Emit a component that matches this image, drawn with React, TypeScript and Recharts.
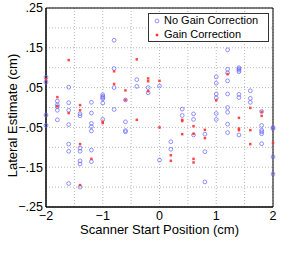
import React from "react";
import { ScatterChart, Scatter, XAxis, YAxis, CartesianGrid, ReferenceArea, Legend } from "recharts";

// scanner start positions (cm)
const positions = [-2, -1.8, -1.6, -1.4, -1.2, -1, -0.8, -0.6, -0.4, -0.2, 0, 0.2, 0.4, 0.6, 0.8, 1, 1.2, 1.4, 1.6, 1.8, 2];

// lateral estimates per position, no gain correction
const noGainValues = [
  [0.076, 0.064, -0.019, -0.045],
  [0.016, 0.007, 0.002, -0.007, -0.031],
  [0.051, 0.012, -0.007, -0.043, -0.092, -0.11, -0.191],
  [-0.016, -0.021, -0.102, -0.11, -0.134, -0.142, -0.2],
  [0.013, -0.014, -0.04, -0.048, -0.059, -0.107, -0.136],
  [0.032, 0.028, 0.025, 0.022, 0.011, -0.03],
  [0.169, 0.098, 0.05, -0.005],
  [0.019, -0.036, -0.058, -0.061],
  [0.07, 0.053],
  [0.05, 0.037],
  [0.054, -0.132],
  [-0.086, -0.105],
  [-0.004, -0.02],
  [-0.016, -0.03, -0.069],
  [-0.067, -0.111, -0.187],
  [0.077, 0.061, 0.034, 0.024, -0.015, -0.03],
  [0.145, 0.096, 0.087, 0.067, 0.034, 0.0, -0.012, -0.042, -0.063],
  [0.1, 0.097, 0.094, 0.09, 0.033, 0.025, -0.069],
  [0.042, 0.023, 0.013],
  [-0.01, -0.045, -0.057, -0.061, -0.066, -0.091],
  [-0.05, -0.053, -0.124, -0.167],
];

// lateral estimates per position, with gain correction
const gainValues = [
  [0.071],
  [0.026, 0.003],
  [0.119, -0.014],
  [0.006, -0.007, -0.092, -0.195],
  [-0.129],
  [-0.036, -0.039],
  [0.091, 0.059],
  [0.043, 0.019],
  [0.121, -0.031],
  [0.073, 0.066, 0.041],
  [0.067, -0.05],
  [-0.12, -0.134],
  [-0.031, -0.034, -0.067],
  [-0.047, -0.066, -0.129, -0.138],
  [-0.056, -0.077],
  [0.018],
  [0.084],
  [-0.026, -0.053, -0.057],
  [-0.001, -0.057, -0.092],
  [-0.011, -0.021],
  [-0.089],
];

const xTicks = [-2, -1.5, -1, -0.5, 0, 0.5, 1, 1.5, 2];
const xTickLabels = ["\u22122", "", "\u22121", "", "0", "", "1", "", "2"];
const yTicks = [-0.25, -0.2, -0.15, -0.1, -0.05, 0, 0.05, 0.1, 0.15, 0.2, 0.25];
const yTickLabels = ["\u2212.25", "", "\u2212.15", "", "\u2212.05", "", ".05", "", ".15", "", ".25"];

const flatten = (vals: number[][]) =>
  positions.flatMap((x, i) => vals[i].map((y) => ({ x, y })));

const noGainData = flatten(noGainValues);
const gainData = flatten(gainValues);

const FONT = "'Liberation Sans', Arial, Helvetica, sans-serif";
const BLUE = "#6464ff";
const RED = "#ff3535";

const OpenCircle = (p: any) => (
  <circle cx={p.cx} cy={p.cy} r={1.9} fill="none" stroke={BLUE} strokeWidth={1} strokeOpacity={0.7} />
);
const Dot = (p: any) => (
  <rect x={p.cx - 1.25} y={p.cy - 1.25} width={2.5} height={2.5} fill={RED} fillOpacity={0.9} />
);

const renderLegend = () => (
  <div
    style={{
      width: 119,
      height: 27,
      border: "1px solid #333",
      background: "#fff",
      fontFamily: FONT,
      fontSize: 11,
      lineHeight: "13.5px",
      color: "#000",
    }}
  >
    <div style={{ display: "flex", alignItems: "center", height: 14 }}>
      <svg width={15} height={10}>
        <circle cx={8} cy={5} r={1.9} fill="none" stroke={BLUE} strokeOpacity={0.7} />
      </svg>
      <span>No Gain Correction</span>
    </div>
    <div style={{ display: "flex", alignItems: "center", height: 14 }}>
      <svg width={15} height={10}>
        <rect x={6.75} y={3.75} width={2.5} height={2.5} fill={RED} />
      </svg>
      <span>Gain Correction</span>
    </div>
  </div>
);

export default function App() {
  return (
    <div style={{ position: "absolute", left: 0, top: 0, width: 305, height: 263, background: "#fff" }}>
      <ScatterChart width={305} height={263} margin={{ top: 8, right: 32, bottom: 0, left: 0 }}>
        <CartesianGrid stroke="#b8b8b8" strokeDasharray="1 2" horizontalValues={yTicks} verticalValues={xTicks} />
        <XAxis
          type="number"
          dataKey="x"
          domain={[-2, 2]}
          ticks={xTicks}
          tickFormatter={(_v: number, i: number) => xTickLabels[i]}
          height={27}
          tickSize={0}
          tickMargin={4}
          axisLine={{ stroke: "#000" }}
          tick={{ fill: "#000", fontSize: 12.5, fontFamily: FONT }}
          interval={0}
          label={{ value: "Scanner Start Position (cm)", position: "insideBottom", offset: 0, fill: "#000", fontSize: 13, fontFamily: FONT }}
        />
        <YAxis
          type="number"
          dataKey="y"
          domain={[-0.25, 0.25]}
          ticks={yTicks}
          tickFormatter={(_v: number, i: number) => yTickLabels[i]}
          width={46}
          tickSize={0}
          tickMargin={3}
          axisLine={{ stroke: "#000" }}
          tick={{ fill: "#000", fontSize: 12.5, fontFamily: FONT }}
          interval={0}
          label={{ value: "Lateral Estimate (cm)", angle: -90, position: "center", dx: -11, dy: 8, fill: "#000", fontSize: 13, fontFamily: FONT }}
        />
        <ReferenceArea x1={-2} x2={2} y1={-0.25} y2={0.25} fill="none" stroke="#000" strokeWidth={1} ifOverflow="visible" />
        <Scatter name="No Gain Correction" data={noGainData} shape={OpenCircle} isAnimationActive={false} />
        <Scatter name="Gain Correction" data={gainData} shape={Dot} isAnimationActive={false} />
        <Legend content={renderLegend} wrapperStyle={{ position: "absolute", left: 148, top: 13, width: 121, height: 29, bottom: "auto" }} />
      </ScatterChart>
    </div>
  );
}
